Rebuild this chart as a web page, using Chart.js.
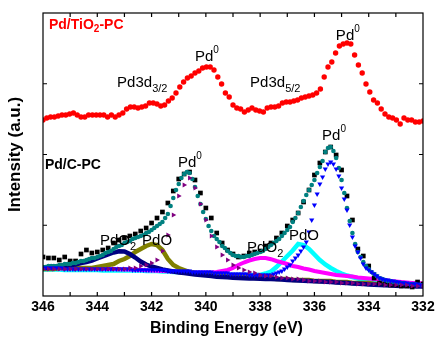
<!DOCTYPE html>
<html><head><meta charset="utf-8">
<script src="https://cdn.jsdelivr.net/npm/chart.js@4.4.1/dist/chart.umd.min.js"></script>
<style>html,body{margin:0;padding:0;background:#fff;}canvas{display:block;}</style>
</head><body>
<canvas id="c" width="436" height="338"></canvas>
<script>
const FONT = '"Liberation Sans", Arial, Helvetica, sans-serif';

// ---- axis ticks ----
const xTickValues = [346, 344, 342, 340, 338, 336, 334, 332];
const xTickMarks = [345, 344, 343, 342, 341, 340, 339, 338, 337, 336, 335, 334, 333];
const yTickMarks = [70.75, 141.5, 212.25];

// ---- binding-energy grids (eV) ----
const grid = (start, step, n) => Array.from({length: n}, (_, i) => +(start - step * i).toFixed(2));
const eVRed = grid(346, 0.14, 101);
const eVFine = grid(346, 0.1, 141);
const eVFit = grid(346, 0.2, 71);

// ---- Pd/TiO2-PC raw spectrum ----
const redTiO2 = [176,178,179,179,180,181,181,182,183,181,
179,179,181,181,181,181,181,179,181,179,
181,183,187,189,189,188,189,190,193,193,
192,190,191,195,198,203,209,214,218,220,
223,225,228,229,229,226,219,212,203,199,
191,188,187,184,186,188,186,185,184,188,
189,189,190,193,194,194,195,196,198,199,
200,201,203,207,219,229,234,243,250,252,
253,252,241,231,223,212,204,196,193,187,
182,179,178,176,172,178,176,176,174,174,
175];

// ---- Pd/C-PC raw spectrum ----
const blackC = [39,38,38,36,39,35,35,42,46,43,
44,46,48,53,56,58,60,62,65,68,
73,78,84,93,105,117,122,124,116,103,
88,78,63,53,46,42,39,40,43,44,
45,50,53,58,63,70,76,83,94,106,
121,133,144,149,141,126,100,76,47,40,
30,18,13,12,11,11,10,10,9,14,
12];

// ---- envelope (fit sum) ----
const tealEnv = [29,29,30,30,30,30,31,31,32,32,
32,33,33,34,35,35,36,37,38,38,
39,40,41,43,44,45,47,49,50,51,
53,54,55,57,58,59,60,61,63,64,
66,68,70,72,74,78,82,90,98,106,
112,118,122,124,123,117,109,100,92,84,
77,70,65,60,57,54,50,48,45,43,
41,40,40,39,39,40,40,41,42,43,
44,45,47,49,51,53,55,57,60,63,
66,69,74,78,83,89,95,101,106,111,
116,123,129,135,144,148,149,145,138,128,
116,103,88,75,63,52,44,39,34,30,
27,24,22,20,18,17,16,15,15,14,
14,13,13,13,12,12,12,12,11,11,
11];

// ---- Pd0 3d5/2 component ----
const blueFit = [28,28,28,28,28,28,28,28,27,27,
27,27,27,27,27,27,27,27,27,27,
27,27,27,27,27,27,27,27,27,27,
27,27,27,26,26,26,26,26,26,26,
26,26,26,26,26,26,25,25,25,25,
25,25,25,25,25,24,24,24,24,24,
24,24,24,23,23,23,23,23,23,22,
22,22,22,22,22,22,21,21,21,21,
21,21,21,21,21,22,23,24,25,27,
29,31,35,38,41,45,49,54,64,76,
91,102,112,119,127,132,134,132,127,120,
108,97,86,71,59,50,44,38,32,28,
26,24,22,20,18,17,16,16,15,15,
14,14,13,13,13,12,12,12,12,11,
11];

// ---- Pd0 3d3/2 component ----
const purpleFit = [27,27,27,27,27,27,27,27,27,27,
27,27,27,27,27,27,28,28,30,31,
33,36,45,61,81,100,111,118,108,92,
76,60,49,41,36,31,28,26,24,23,
21,20,20,19,18,18,17,17,16,15,
15,15,14,14,14,13,13,13,12,12,
12,12,12,11,11,11,11,11,10,10,10];

// ---- PdO 3d3/2 component ----
const oliveFit = [27,27,27,28,28,28,28,28,28,28,
29,30,31,32,35,37,40,44,47,50,
52,51,46,37,31,28,26,24,23,22,
22,21,21,20,20,20,19,19,19,18,
18,18,18,17,17,17,16,16,16,16,
15,15,15,15,14,14,14,13,13,13,
13,12,12,12,12,11,11,11,11,11,10];

// ---- PdO2 3d3/2 component ----
const navyFit = [28,28.5,29,29.5,30,30.7,31.5,33,34,35.5,
37.5,39.5,41.5,43.5,44.8,44.5,42,38.5,34.5,31.5,
29.5,28,26.5,25.5,24.5,23.5,23,22.2,21.5,21,
20.5,20,19.3,19,18.7,18.3,18,17.8,17.6,17.4,
17.2,17,17,16.7,16.4,16.1,15.8,15.6,15.3,15,
14.8,14.5,14.2,14,13.6,13.3,12.9,12.6,12.2,11.9,
11.5,11.3,11,10.7,10.5,10.2,10,9.9,9.7,9.6,9.5];

// ---- PdO 3d5/2 component ----
const cyanFit = [26.5,26.5,26.5,26.5,26,26,26,26,26,26,
26,25.5,25.5,25.5,25.5,25.5,25.5,25.5,25.5,25,
25,25,24.5,24.5,24,24,23.5,23.5,23,23,
22.5,22,22,21.5,21.5,21,21,21,21,21,
21,22.5,24.5,29,34.5,40,45.5,52,51,47,
41.5,36,31.5,28,25,22.5,20.5,19,17.5,16.5,
15.5,14.5,14,13.5,13,12.5,12,12,11.5,11.5,11];

// ---- PdO2 3d5/2 component ----
const magentaFit = [27.5,27.5,27.5,27.5,27.5,27.5,27.5,27.5,27.5,27.5,
27.3,27.2,27,27,26.8,26.6,26.4,26.2,26,25.8,
25.6,25.3,25,24.8,24.5,24.3,24,23.8,23.6,23.5,
23.5,23.5,24,25,26,28,31,33.5,35.5,37,
38,38,36.8,35,33.5,32,30,29,27.5,26.5,
25,24,23,22,21,20.5,20,19.5,18.5,18,
17.5,17,16.5,16,15,14.5,14,13.5,13,13,12.5];

const pts = (xs, ys) => ys.map((y, i) => ({x: xs[i], y}));

// ---- text labels (data coordinates of left/baseline) ----
const notes = [
  {x: 345.78, y: 267, color: '#ff0000', parts: [['Pd/TiO', 'B'], ['2', 'Bsub'], ['-PC', 'B']]},
  {x: 345.93, y: 127.5, color: '#000', parts: [['Pd/C-PC', 'B']]},
  {x: 340.40, y: 235, color: '#000', parts: [['Pd', 'R'], ['0', 'sup']]},
  {x: 343.27, y: 209.5, color: '#000', parts: [['Pd3d', 'R'], ['3/2', 'sub']]},
  {x: 338.37, y: 209, color: '#000', parts: [['Pd3d', 'R'], ['5/2', 'sub']]},
  {x: 335.21, y: 256.5, color: '#000', parts: [['Pd', 'R'], ['0', 'sup']]},
  {x: 341.03, y: 129.5, color: '#000', parts: [['Pd', 'R'], ['0', 'sup']]},
  {x: 335.72, y: 156, color: '#000', parts: [['Pd', 'R'], ['0', 'sup']]},
  {x: 343.90, y: 51, color: '#000', parts: [['PdO', 'R'], ['2', 'sub']]},
  {x: 342.35, y: 51, color: '#000', parts: [['PdO', 'R']]},
  {x: 338.48, y: 44, color: '#000', parts: [['PdO', 'R'], ['2', 'sub']]},
  {x: 336.94, y: 56.5, color: '#000', parts: [['PdO', 'R']]}
];
const textStyles = {
  R: {font: '15px ' + FONT, dy: 0},
  B: {font: 'bold 14px ' + FONT, dy: 0},
  Bsub: {font: 'bold 10px ' + FONT, dy: 3},
  sub: {font: '11px ' + FONT, dy: 5},
  sup: {font: '10px ' + FONT, dy: -8}
};

const framePlugin = {
  id: 'frame',
  afterDatasetsDraw(chart) {
    const {ctx, chartArea: ca, scales: {x, y}} = chart;
    ctx.save();
    ctx.strokeStyle = '#000';
    ctx.lineWidth = 1.2;
    ctx.strokeRect(ca.left, ca.top, ca.right - ca.left, ca.bottom - ca.top);
    ctx.beginPath();
    xTickMarks.forEach(v => {
      const px = x.getPixelForValue(v);
      ctx.moveTo(px, ca.bottom); ctx.lineTo(px, ca.bottom - 4);
      ctx.moveTo(px, ca.top); ctx.lineTo(px, ca.top + 4);
    });
    yTickMarks.forEach(v => {
      const py = y.getPixelForValue(v);
      ctx.moveTo(ca.left, py); ctx.lineTo(ca.left + 4, py);
      ctx.moveTo(ca.right, py); ctx.lineTo(ca.right - 4, py);
    });
    ctx.stroke();
    ctx.restore();
  },
  afterDraw(chart) {
    const {ctx, chartArea: ca, scales: {x, y}} = chart;
    ctx.save();
    ctx.textBaseline = 'alphabetic';
    ctx.textAlign = 'left';
    notes.forEach(n => {
      let px = x.getPixelForValue(n.x);
      const py = y.getPixelForValue(n.y);
      ctx.fillStyle = n.color;
      n.parts.forEach(([t, s]) => {
        const st = textStyles[s];
        ctx.font = st.font;
        ctx.fillText(t, px, py + st.dy);
        px += ctx.measureText(t).width;
      });
    });
    // x-axis title
    ctx.fillStyle = '#000';
    ctx.font = 'bold 16px ' + FONT;
    ctx.textAlign = 'center';
    ctx.textBaseline = 'middle';
    ctx.fillText('Binding Energy (eV)', ca.left + 183.5, ca.bottom + 32.5);
    ctx.restore();
  }
};

const scatterSet = (label, xs, ys, color, style, radius, rot, order) => ({
  label, data: pts(xs, ys), showLine: false, pointStyle: style, pointRadius: radius,
  pointRotation: rot, pointBackgroundColor: color, pointBorderColor: color, pointBorderWidth: 0,
  borderColor: color, order
});
const bandSet = (label, xs, ys, color, width, order) => ({
  label, data: pts(xs, ys), showLine: true, borderColor: color, borderWidth: width,
  pointRadius: 0, tension: 0, order
});

new Chart(document.getElementById('c'), {
  type: 'scatter',
  data: {
    datasets: [
      scatterSet('Pd/TiO2-PC', eVRed, redTiO2, '#ff0000', 'circle', 2.7, 0, 0),
      scatterSet('Pd0 3d3/2', eVFit, purpleFit, '#800080', 'triangle', 3, 90, 1),
      scatterSet('Pd0 3d5/2', eVFine, blueFit, '#0000ff', 'triangle', 3, 180, 2),
      scatterSet('Envelope', eVFine, tealEnv, '#008080', 'circle', 2.3, 0, 3),
      scatterSet('Pd/C-PC', eVFit, blackC, '#000000', 'rect', 3.3, 0, 4),
      bandSet('PdO2 3d3/2', eVFit, navyFit, '#000080', 4.5, 5),
      bandSet('PdO 3d3/2', eVFit, oliveFit, '#808000', 4.5, 6),
      bandSet('PdO2 3d5/2', eVFit, magentaFit, '#ff00ff', 4, 7),
      bandSet('PdO 3d5/2', eVFit, cyanFit, '#00ffff', 4.5, 8)
    ]
  },
  options: {
    responsive: false,
    devicePixelRatio: 1,
    animation: false,
    layout: {padding: {top: 13, right: 13, left: 0, bottom: 0}},
    plugins: {legend: {display: false}, tooltip: {enabled: false}},
    scales: {
      x: {
        type: 'linear', reverse: true, min: 332, max: 346,
        afterBuildTicks: s => { s.ticks = xTickValues.map(v => ({value: v})); },
        afterFit: s => { s.height = 42; s.paddingLeft = 0; s.paddingRight = 0; },
        grid: {display: false, drawTicks: false},
        border: {display: false},
        ticks: {font: {family: FONT, size: 14, weight: 'bold'}, color: '#000', padding: 3,
                maxRotation: 0, autoSkip: false, callback: v => String(v)},
        title: {display: false}
      },
      y: {
        type: 'linear', min: 0, max: 283,
        afterFit: s => { s.width = 43; s.paddingTop = 0; s.paddingBottom = 0; },
        grid: {display: false, drawTicks: false},
        border: {display: false},
        ticks: {display: false},
        title: {display: true, text: 'Intensity (a.u.)', color: '#000',
                font: {family: FONT, size: 17, weight: 'bold'}, padding: {top: 5, bottom: 0}}
      }
    }
  },
  plugins: [framePlugin]
});
</script>
</body></html>
